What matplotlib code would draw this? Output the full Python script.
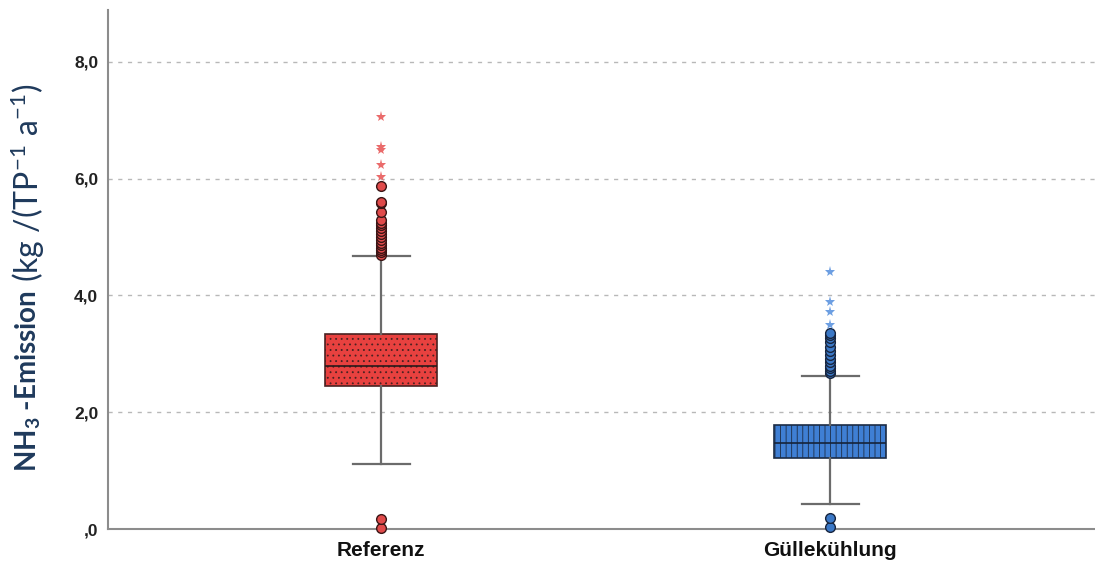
import matplotlib.pyplot as plt

# Werte (kg / (TP^-1 a^-1))
groups = ['Referenz', 'Güllekühlung']
q1 = [2.45, 1.22]
median = [2.79, 1.47]
q3 = [3.34, 1.78]
whisker_lo = [1.11, 0.43]
whisker_hi = [4.67, 2.62]

ref_circles = [0.02, 0.17, 4.70, 4.74, 4.78, 4.82, 4.86, 4.90, 4.95, 5.00,
               5.05, 5.10, 5.15, 5.20, 5.25, 5.29, 5.43, 5.58, 5.60, 5.87]
ref_stars = [6.03, 6.23, 6.50, 6.55, 7.06]
guelle_circles = [0.04, 0.19, 2.67, 2.71, 2.75, 2.80, 2.86, 2.92, 2.98, 3.05,
                  3.12, 3.20, 3.27, 3.33, 3.36]
guelle_stars = [3.49, 3.72, 3.89, 4.41]

yticks = [0, 2, 4, 6, 8]
ytick_labels = [',0', '2,0', '4,0', '6,0', '8,0']

box_colors = ['#e8413f', '#3f7fd4']
circle_face = ['#e04a4a', '#3b78c6']
circle_edge = ['#3a1515', '#17253f']
star_colors = ['#ea6b6b', '#6d9fe2']
hatches = ['...', '|||']

plt.rcParams['hatch.linewidth'] = 0.6
plt.rcParams['mathtext.default'] = 'regular'

fig = plt.figure(figsize=(10.95, 5.66), dpi=100)
ax = fig.add_axes([108 / 1095, 1 - 529 / 566, 1 - 108 / 1095, (529 - 10) / 566])

stats = []
for i in range(len(groups)):
    stats.append({'med': median[i], 'q1': q1[i], 'q3': q3[i],
                  'whislo': whisker_lo[i], 'whishi': whisker_hi[i],
                  'fliers': [], 'label': groups[i]})

pos = [1, 2]
bp = ax.bxp(stats, positions=pos, widths=0.25, patch_artist=True,
            showfliers=False, capwidths=0.127,
            medianprops=dict(color='#2a1a1a', linewidth=1.2),
            whiskerprops=dict(color='#6b6b6b', linewidth=1.6),
            capprops=dict(color='#6b6b6b', linewidth=1.6),
            boxprops=dict(linewidth=1.2))
bp['medians'][1].set_color('#15233a')
for i, box in enumerate(bp['boxes']):
    box.set_facecolor(box_colors[i])
    box.set_edgecolor('#4a2222' if i == 0 else '#1c2c45')
    box.set_hatch(hatches[i])
    box.set_zorder(2)

circles = [ref_circles, guelle_circles]
stars = [ref_stars, guelle_stars]
for i in range(len(groups)):
    ax.plot([pos[i]] * len(circles[i]), circles[i], 'o', ms=7,
            mfc=circle_face[i], mec=circle_edge[i], mew=1.0, zorder=3,
            clip_on=False)
    ax.plot([pos[i]] * len(stars[i]), stars[i], '*', ms=8,
            color=star_colors[i], mew=0, zorder=3)

ax.set_xlim(0.392, 2.59)
ax.set_ylim(0, 8.89)
ax.set_yticks(yticks)
ax.set_yticklabels(ytick_labels, fontsize=12.5, fontweight='bold',
                   family='Liberation Sans', color='#222222')
ax.set_xticks(pos)
ax.set_xticklabels(groups, fontsize=15, fontweight='bold',
                   family='Liberation Sans', color='#111111')
ax.tick_params(axis='both', length=0)
ax.tick_params(axis='y', pad=7)
ax.tick_params(axis='x', pad=9)

for y in yticks[1:]:
    ax.axhline(y, color='#b8b8b8', linestyle=(0, (3, 4)), linewidth=1.0,
               zorder=0)

for s in ['top', 'right']:
    ax.spines[s].set_visible(False)
for s in ['left', 'bottom']:
    ax.spines[s].set_color('#8c8c8c')
    ax.spines[s].set_linewidth(1.5)

# y-Achsenbeschriftung: fetter und normaler Teil
t1 = fig.text(28 / 1095, 1 - 472 / 566, 'NH$_3$ -Emission', rotation=90,
              ha='center', va='bottom', fontsize=20, fontweight='bold',
              family='Lato', color='#1f3a5c')
fig.canvas.draw()
bb = t1.get_window_extent()
fig.text(28 / 1095, (bb.y1 + 8) / 566, '(kg /(TP$^{-1}$ a$^{-1}$)',
         rotation=90, ha='center', va='bottom', fontsize=23, family='Lato',
         color='#1f3a5c')

fig.savefig('out.png', dpi=100)
